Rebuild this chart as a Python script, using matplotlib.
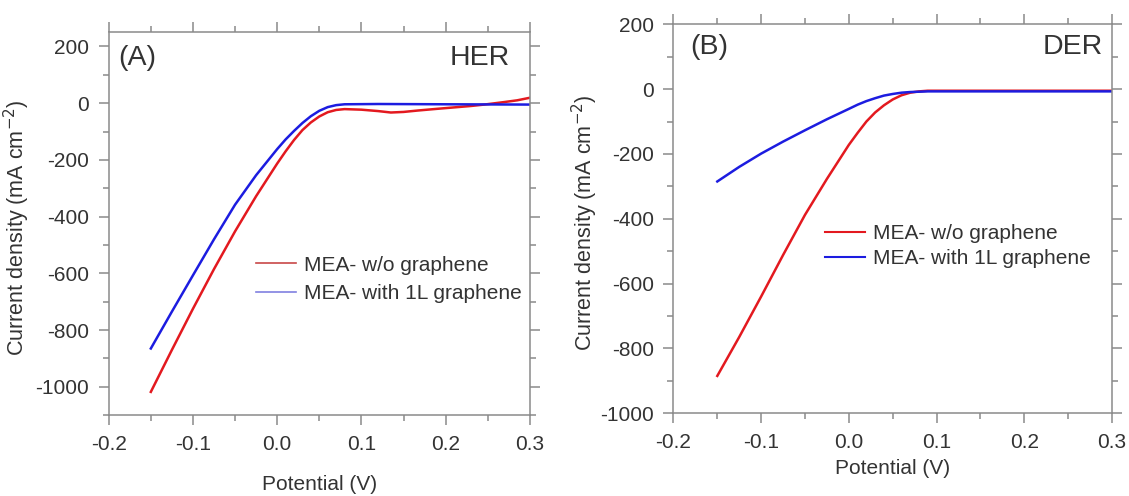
import matplotlib.pyplot as plt
from matplotlib.ticker import MultipleLocator

plt.rcParams["font.family"] = ["Liberation Sans", "DejaVu Sans"]
plt.rcParams["axes.unicode_minus"] = False

# Panel A (HER)
her_x_plain = [-0.15, -0.125, -0.10, -0.075, -0.05, -0.025, 0.0, 0.01, 0.02, 0.03,
               0.04, 0.05, 0.06, 0.07, 0.08, 0.10, 0.12, 0.135, 0.15, 0.167,
               0.19, 0.206, 0.23, 0.246, 0.27, 0.285, 0.30]
her_y_plain = [-1018, -870, -725, -585, -452, -328, -213, -170, -130, -95,
               -68, -47, -32, -24, -21, -23, -28, -33, -31, -26,
               -20, -16, -10, -5, 4, 10, 19]
her_x_gr = [-0.15, -0.125, -0.10, -0.075, -0.05, -0.025, 0.0, 0.01, 0.02, 0.03,
            0.04, 0.05, 0.06, 0.07, 0.08, 0.12, 0.2, 0.3]
her_y_gr = [-865, -735, -607, -480, -358, -254, -162, -128, -98, -70,
            -46, -27, -14, -7, -4, -3, -4, -5]

# Panel B (DER)
der_x_plain = [-0.15, -0.125, -0.10, -0.075, -0.05, -0.025, 0.0, 0.01, 0.02, 0.03,
               0.04, 0.05, 0.06, 0.07, 0.08, 0.09, 0.3]
der_y_plain = [-885, -765, -640, -512, -388, -277, -172, -135, -100, -72,
               -50, -32, -19, -11, -7, -5, -5]
der_x_gr = [-0.15, -0.125, -0.10, -0.075, -0.05, -0.025, 0.0, 0.01, 0.02, 0.03,
            0.04, 0.05, 0.06, 0.07, 0.09, 0.3]
der_y_gr = [-285, -240, -199, -162, -127, -93, -61, -48, -37, -28,
            -20, -15, -11, -9, -7, -7]

labels = ["MEA- w/o graphene", "MEA- with 1L graphene"]
red = "#e3191f"
blue = "#1c1ce0"
gray = "#8a8a8a"
txt = "#333333"

fig = plt.figure(figsize=(11.29, 4.96), dpi=100)
axA = fig.add_axes([0.0963, 0.163, 0.373, 0.772])
axB = fig.add_axes([0.5965, 0.167, 0.3884, 0.784])


def style(ax, ylim):
    ax.set_xlim(-0.2, 0.3)
    ax.set_ylim(*ylim)
    ax.xaxis.set_major_locator(MultipleLocator(0.1))
    ax.xaxis.set_minor_locator(MultipleLocator(0.05))
    ax.yaxis.set_major_locator(MultipleLocator(200))
    ax.yaxis.set_minor_locator(MultipleLocator(100))
    ax.tick_params(which="both", direction="out", top=True, right=True,
                   color=gray, width=1.1, labelcolor=txt, labelsize=15)
    ax.tick_params(which="major", length=7.5, pad=6.5)
    ax.tick_params(which="minor", length=4.5)
    for s in ax.spines.values():
        s.set_color(gray)
        s.set_linewidth(1.1)
    ax.xaxis.set_major_formatter(plt.FuncFormatter(lambda v, p: f"{v:.1f}"))
    ax.set_xlabel("Potential (V)", fontsize=15, color=txt)
    ax.set_ylabel("Current density (mA cm$^{-2}$)", fontsize=15.5, color=txt)


style(axA, (-1100, 250))
axA.plot(her_x_plain, her_y_plain, color=red, lw=1.8, label=labels[0])
axA.plot(her_x_gr, her_y_gr, color=blue, lw=1.8, label=labels[1])
axA.text(0.022, 0.932, "(A)", transform=axA.transAxes, fontsize=20.5,
         color=txt, va="center", ha="left")
axA.text(0.953, 0.932, "HER", transform=axA.transAxes, fontsize=20.5,
         color=txt, va="center", ha="right")
legA = axA.legend(loc="center left", bbox_to_anchor=(0.35, 0.355),
                  frameon=False, fontsize=15, borderpad=0, borderaxespad=0,
                  handlelength=1.9, handletextpad=0.4, labelspacing=0.45)
for t in legA.get_texts():
    t.set_color(txt)
for h, c in zip(legA.legend_handles, ["#c84848", "#8080e0"]):
    h.set_color(c)
    h.set_linewidth(1.2)
axA.yaxis.set_label_coords(-0.182, 0.49)
axA.xaxis.set_label_coords(0.5, -0.155)

style(axB, (-1000, 200))
axB.plot(der_x_plain, der_y_plain, color=red, lw=1.8, label=labels[0])
axB.plot(der_x_gr, der_y_gr, color=blue, lw=1.8, label=labels[1])
axB.text(0.038, 0.942, "(B)", transform=axB.transAxes, fontsize=20.5,
         color=txt, va="center", ha="left")
axB.text(0.98, 0.942, "DER", transform=axB.transAxes, fontsize=20.5,
         color=txt, va="center", ha="right")
legB = axB.legend(loc="center left", bbox_to_anchor=(0.346, 0.43),
                  frameon=False, fontsize=15, borderpad=0, borderaxespad=0,
                  handlelength=1.9, handletextpad=0.4, labelspacing=0.28)
for t in legB.get_texts():
    t.set_color(txt)
for h in legB.legend_handles:
    h.set_linewidth(1.5)
axB.yaxis.set_label_coords(-0.167, 0.49)
axB.xaxis.set_label_coords(0.5, -0.118)

fig.savefig("out.png", dpi=100)
